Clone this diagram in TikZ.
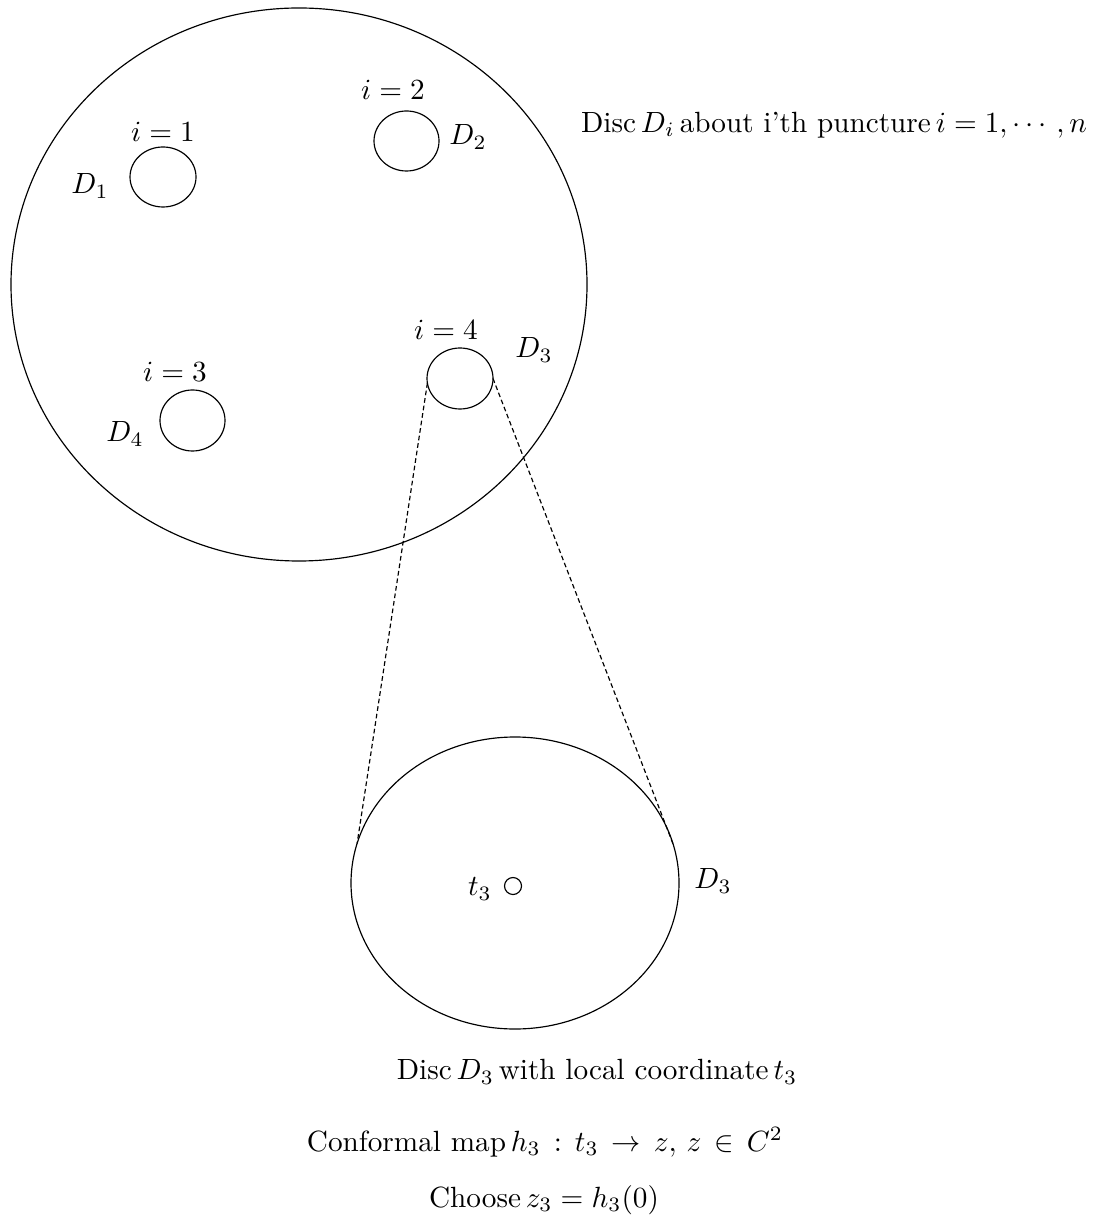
\documentclass[tikz,border=0pt]{standalone}
\usepackage{amsmath}
\usepackage{tikz}
\usetikzlibrary{shapes.geometric}

\newdimen\px
\px=0.342pt

\begin{document}
\begin{tikzpicture}[
    x=\px, y=-\px,
    disc/.style={ellipse, draw, thin, inner sep=0pt, outer sep=0pt},
    lbl/.style={inner sep=1pt, font=\normalsize},
    zoom/.style={dashed, dash pattern=on 1.6pt off 1pt, thin}
  ]
  \useasboundingbox (0,0) rectangle (1098,1219);

  % surface and punctures
  \node[disc, minimum width={576*\px}, minimum height={553*\px}] (surf) at (299,284.5) {};
  \node[disc, minimum width={66*\px}, minimum height={60*\px}] (d1) at (163,177) {};
  \node[disc, minimum width={65*\px}, minimum height={60*\px}] (d2) at (406.5,141) {};
  \node[disc, minimum width={66*\px}, minimum height={61*\px}] (d3) at (460,378.5) {};
  \node[disc, minimum width={65*\px}, minimum height={61*\px}] (d4) at (192.5,420.5) {};

  \node[lbl] (i1) at (163,132) {$i=1$};
  \node[lbl] (n1) at (90,186) {$D_1$};
  \node[lbl] (i2) at (393,90) {$i=2$};
  \node[lbl] (n2) at (468,137) {$D_2$};
  \node[lbl] (i4) at (446,330) {$i=4$};
  \node[lbl] (n3) at (534,350) {$D_3$};
  \node[lbl] (i3) at (175,372) {$i=3$};
  \node[lbl] (n4) at (125,434) {$D_4$};

  \node[lbl] (title) at (834,125) {Disc\,$D_i$\,about i'th puncture\,$i=1,\cdots,n$};

  % blown up disc
  \node[disc, minimum width={328*\px}, minimum height={292*\px}] (big) at (515,883) {};
  \node[circle, draw, thin, inner sep=0pt, minimum size={17*\px}] (pt) at (513,886) {};
  \node[lbl] (t3) at (480,889) {$t_3$};
  \node[lbl] (nb) at (713,881) {$D_3$};

  \draw[zoom] (d3.188) -- (big.166);
  \draw[zoom] (d3.0) -- (big.14);

  % captions
  \node[lbl] (cap1) at (597,1072) {Disc\,$D_3$\,with local coordinate\,$t_3$};
  \node[lbl] (cap2) at (545,1142) {Conformal map\,$h_3\,:\,t_3\,\rightarrow\,z,\,z\,\in\,C^2$};
  \node[lbl] (cap3) at (544,1200) {Choose\,$z_3=h_3(0)$};
\end{tikzpicture}
\end{document}
